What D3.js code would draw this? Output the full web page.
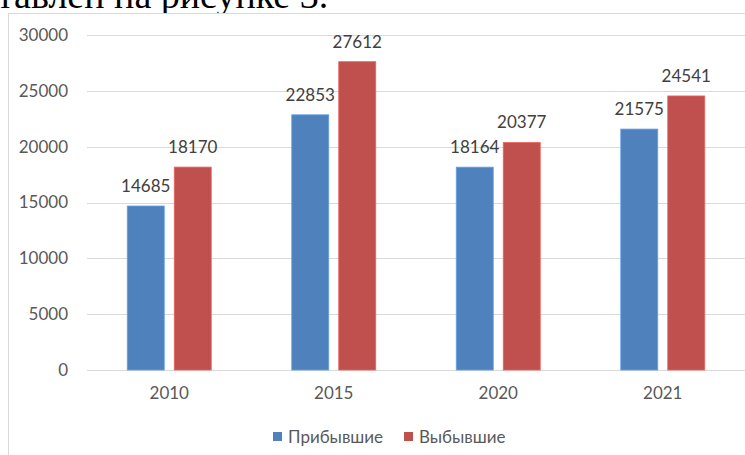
<!DOCTYPE html>
<html>
<head>
<meta charset="utf-8">
<script src="https://cdn.jsdelivr.net/npm/d3@7"></script>
<style>
  html, body { margin: 0; padding: 0; background: #fff; }
  svg { display: block; }
</style>
</head>
<body>
<svg id="chart" width="745" height="455"></svg>
<script>
// Миграция населения по годам
const years = ["2010", "2015", "2020", "2021"];
const arrived = [14685, 22853, 18164, 21575];
const departed = [18170, 27612, 20377, 24541];
const seriesNames = ["Прибывшие", "Выбывшие"];
const seriesColors = ["#4f81bd", "#c0504d"];
const yTicks = [0, 5000, 10000, 15000, 20000, 25000, 30000];

const svg = d3.select("#chart");
const W = 745, H = 455;
const font = "Lato, 'Open Sans', sans-serif";
const fs = 17;

// Fragment of the surrounding document text above the chart
svg.append("text")
  .attr("x", -3).attr("y", 8)
  .attr("font-family", "'Liberation Serif', 'Times New Roman', serif")
  .attr("font-size", 38)
  .attr("fill", "#000")
  .text("тавлен на рисунке 3.");

// Chart frame (drawn over the lower part of the text line)
svg.append("rect")
  .attr("x", 8.5).attr("y", 13.5)
  .attr("width", W).attr("height", H)
  .attr("fill", "#fff")
  .attr("stroke", "#d9d9d9")
  .attr("stroke-width", 1);

const plot = { left: 87, right: 745, top: 35, bottom: 370 };

const x0 = d3.scaleBand()
  .domain(years)
  .range([plot.left, plot.right])
  .paddingInner(0)
  .paddingOuter(0);

const y = d3.scaleLinear()
  .domain([0, 30000])
  .range([plot.bottom, plot.top]);

// Gridlines
svg.append("g")
  .selectAll("line")
  .data(yTicks)
  .join("line")
  .attr("x1", plot.left).attr("x2", plot.right)
  .attr("y1", d => Math.round(y(d)) + 0.5)
  .attr("y2", d => Math.round(y(d)) + 0.5)
  .attr("stroke", "#d9d9d9")
  .attr("stroke-width", 1);

// Y axis labels
const yAxis = d3.axisLeft(y).tickValues(yTicks).tickSize(0).tickPadding(0).tickFormat(d3.format("d"));
const yg = svg.append("g")
  .attr("transform", `translate(${68},0)`)
  .call(yAxis);
yg.select(".domain").remove();
yg.selectAll("text")
  .attr("font-family", font)
  .attr("font-size", fs)
  .attr("fill", "#595959");

// X axis labels
const xAxis = d3.axisBottom(x0).tickSize(0).tickPadding(0);
const xg = svg.append("g")
  .attr("transform", `translate(0,${plot.bottom + 17})`)
  .call(xAxis);
xg.select(".domain").remove();
xg.selectAll("text")
  .attr("font-family", font)
  .attr("font-size", fs)
  .attr("fill", "#595959");

// Bars: two series per year, with value labels
const barW = 37, gap = 10;
const series = [arrived, departed];
const groups = svg.append("g");
years.forEach((yr, i) => {
  const cx = x0(yr) + x0.bandwidth() / 2;
  series.forEach((vals, s) => {
    const bx = s === 0 ? cx - gap / 2 - barW : cx + gap / 2;
    const v = vals[i];
    groups.append("rect")
      .attr("x", bx)
      .attr("y", y(v))
      .attr("width", barW)
      .attr("height", y(0) - y(v))
      .attr("fill", seriesColors[s])
      .attr("stroke", d3.color(seriesColors[s]).brighter(0.6))
      .attr("stroke-width", 0.8);
    groups.append("text")
      .attr("x", bx + barW / 2)
      .attr("y", y(v) - 14)
      .attr("text-anchor", "middle")
      .attr("font-family", font)
      .attr("font-size", fs)
      .attr("fill", "#404040")
      .text(d3.format("d")(v));
  });
});

// Legend
const legend = svg.append("g");
const legendItems = [
  { name: seriesNames[0], color: seriesColors[0], x: 273 },
  { name: seriesNames[1], color: seriesColors[1], x: 404 }
];
legendItems.forEach(it => {
  legend.append("rect")
    .attr("x", it.x).attr("y", 432)
    .attr("width", 9).attr("height", 9)
    .attr("fill", it.color);
  legend.append("text")
    .attr("x", it.x + 15).attr("y", 443)
    .attr("font-family", font)
    .attr("font-size", fs)
    .attr("fill", "#595959")
    .text(it.name);
});
</script>
</body>
</html>
